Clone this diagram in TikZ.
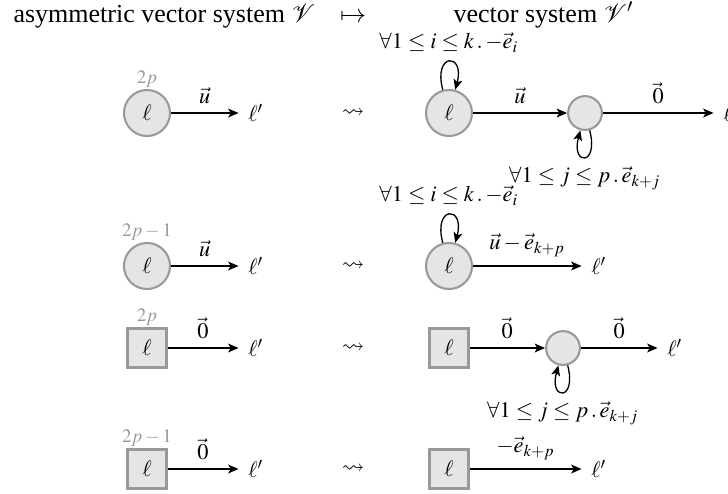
\documentclass[tikz,border=0pt]{standalone}
\usepackage{mathptmx}
\usepackage{amssymb}
\usepackage[no-math]{fontspec}
\setmainfont{Liberation Serif}
\usetikzlibrary{arrows.meta}
\begin{document}
\begin{tikzpicture}[x=0.3846pt,y=-0.3846pt,
  every node/.style={font=\fontsize{8.6}{10}\selectfont},
  ttl/.style={inner sep=0pt,font=\fontsize{10}{12}\selectfont},
  st/.style={circle,draw=gray!80,fill=gray!20,line width=0.8pt,minimum size=17.7pt,inner sep=0pt},
  sm/.style={circle,draw=gray!80,fill=gray!20,line width=0.8pt,minimum size=13pt,inner sep=0pt},
  sq/.style={rectangle,draw=gray!80,fill=gray!20,line width=0.8pt,minimum size=15pt,inner sep=0pt},
  cnt/.style={text=gray!80,font=\fontsize{7.3}{8}\selectfont,inner sep=0.5pt},
  plain/.style={inner sep=3.6pt},
  tr/.style={->,line width=0.5pt},
  >={Stealth[length=4pt,width=3.4pt,inset=1pt]}
]
\useasboundingbox (0,0) rectangle (728,493);
% title
\node[ttl,anchor=base west] (t1) at (13,22) {asymmetric vector system $\mathcal{V}$};
\node[ttl,anchor=base] (t2) at (353,22) {$\mapsto$};
\node[ttl,anchor=base west] (t3) at (453,22) {vector system $\mathcal{V}'$};

% row 1
\node[st,label={[cnt]above:$2p$}] (a1) at (147,113) {$\ell$};
\node[plain] (a1p) at (256,113) {$\ell'$};
\draw[tr] (a1) -- node[above] {$\vec{u}$} (a1p);
\node (s1) at (353,113) {$\rightsquigarrow$};
\node[st] (b1) at (449,113) {$\ell$};
\node[sm] (m1) at (585,113) {};
\node[plain] (b1p) at (731,113) {$\ell'$};
\draw[tr] (b1) to[loop above] node[above] {$\forall 1\leq i\leq k\,.\,{-\vec{e}_i}$} (b1);
\draw[tr] (b1) -- node[above] {$\vec{u}$} (m1);
\draw[tr] (m1) to[loop below] node[below] {$\forall 1\leq j\leq p\,.\,\vec{e}_{k+j}$} (m1);
\draw[tr] (m1) -- node[above] {$\vec{0}$} (b1p);

% row 2
\node[st,label={[cnt]above:$2p-1$}] (a2) at (147,266) {$\ell$};
\node[plain] (a2p) at (256,266) {$\ell'$};
\draw[tr] (a2) -- node[above] {$\vec{u}$} (a2p);
\node (s2) at (353,266) {$\rightsquigarrow$};
\node[st] (b2) at (449,266) {$\ell$};
\node[plain] (b2p) at (599,266) {$\ell'$};
\draw[tr] (b2) to[loop above] node[above] {$\forall 1\leq i\leq k\,.\,{-\vec{e}_i}$} (b2);
\draw[tr] (b2) -- node[above] {$\vec{u}-\vec{e}_{k+p}$} (b2p);

% row 3
\node[sq,label={[cnt]above:$2p$}] (a3) at (147,348) {$\ell$};
\node[plain] (a3p) at (256,348) {$\ell'$};
\draw[tr] (a3) -- node[above] {$\vec{0}$} (a3p);
\node (s3) at (353,348) {$\rightsquigarrow$};
\node[sq] (b3) at (449,348) {$\ell$};
\node[sm] (m3) at (563,348) {};
\node[plain] (b3p) at (675,348) {$\ell'$};
\draw[tr] (b3) -- node[above] {$\vec{0}$} (m3);
\draw[tr] (m3) to[loop below] node[below] {$\forall 1\leq j\leq p\,.\,\vec{e}_{k+j}$} (m3);
\draw[tr] (m3) -- node[above] {$\vec{0}$} (b3p);

% row 4
\node[sq,label={[cnt]above:$2p-1$}] (a4) at (147,469) {$\ell$};
\node[plain] (a4p) at (256,469) {$\ell'$};
\draw[tr] (a4) -- node[above] {$\vec{0}$} (a4p);
\node (s4) at (353,469) {$\rightsquigarrow$};
\node[sq] (b4) at (449,469) {$\ell$};
\node[plain] (b4p) at (599,469) {$\ell'$};
\draw[tr] (b4) -- node[above] {$-\vec{e}_{k+p}$} (b4p);
\end{tikzpicture}
\end{document}
